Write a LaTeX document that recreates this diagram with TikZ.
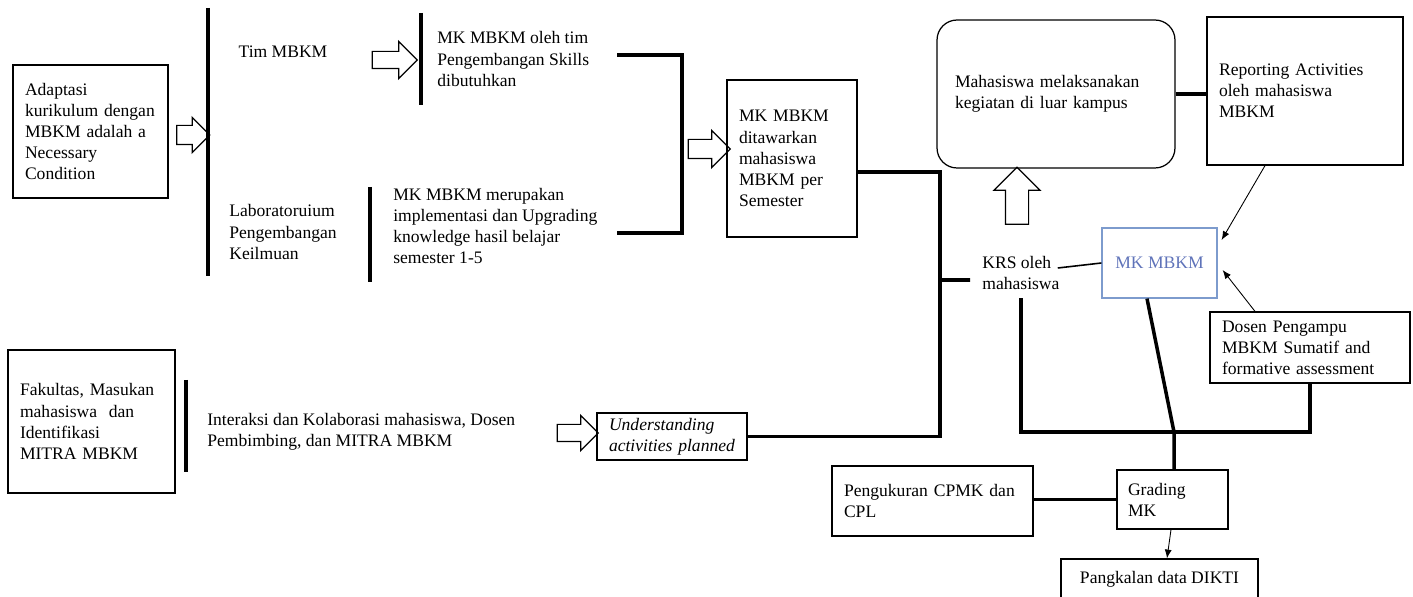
\documentclass[tikz,border=0pt]{standalone}
\usepackage{fontspec}
\setmainfont{Liberation Serif}
\usetikzlibrary{shapes.arrows,arrows.meta}

\newcommand\boxsep{0.24cm}
\definecolor{mkblue}{RGB}{95,115,185}
\definecolor{mkframe}{RGB}{125,155,205}

\tikzset{
    box/.style={draw, line width=0.7pt, align=left, inner xsep=\boxsep, inner ysep=0pt},
    plain/.style={align=left, inner sep=0pt},
    bar/.style={line width=2.6pt},
    thinbar/.style={line width=1.8pt},
    link/.style={line width=2pt},
    pointer/.style={line width=0.5pt, -{Latex[length=5pt,width=4pt]}},
    hollow/.style={single arrow, draw, line width=0.7pt, inner xsep=0pt, single arrow head indent=0pt}
}

\begin{document}
\begin{tikzpicture}[x=0.02cm, y=-0.02cm]
    \useasboundingbox (0,0) rectangle (1413,597);

    \node[box, minimum width=3.1cm, minimum height=2.66cm, text width=2.62cm] (adapt) at (90.5,131.5) {Adaptasi\\ kurikulum dengan\\ MBKM adalah a\\ Necessary\\ Condition};
    \node[box, minimum width=2.6cm, minimum height=3.14cm, text width=2.12cm] (mkoffer) at (792,158.5) {MK MBKM\\ ditawarkan\\ mahasiswa\\ MBKM per\\ Semester};
    \node[box, rounded corners=0.4cm, inner xsep=0.36cm, minimum width=4.76cm, minimum height=2.96cm, text width=4.04cm] (kegiatan) at (1056,94) {Mahasiswa melaksanakan\\ kegiatan di luar kampus};
    \node[box, minimum width=3.92cm, minimum height=2.96cm, text width=3.44cm] (report) at (1305,91) {Reporting Activities\\ oleh mahasiswa\\ MBKM};
    \node[box, draw=mkframe, text=mkblue, align=center, minimum width=2.3cm, minimum height=1.4cm] (mkblue) at (1159.5,263) {MK MBKM};
    \node[box, minimum width=4cm, minimum height=1.42cm, text width=3.52cm] (dosen) at (1310,347.5) {Dosen Pengampu\\ MBKM Sumatif and\\ formative assessment};
    \node[box, inner xsep=0.22cm, minimum width=2.22cm, minimum height=1.18cm, text width=1.78cm] (grading) at (1172.5,499.5) {Grading\\ MK};
    \node[box, minimum width=4.02cm, minimum height=1.4cm, text width=3.54cm] (ukur) at (932.5,501) {Pengukuran CPMK dan\\ CPL};
    \node[box, align=center, minimum width=3.94cm, minimum height=0.8cm] (pangkalan) at (1159.5,579) {Pangkalan data DIKTI};
    \node[box, minimum width=3.34cm, minimum height=2.86cm, text width=2.86cm] (fakultas) at (91.5,421.5) {Fakultas, Masukan\\ mahasiswa\ \ dan\\ Identifikasi\\ MITRA MBKM};
    \node[box, minimum width=3cm, minimum height=0.94cm, text width=2.52cm, font=\itshape] (underst) at (672,436.5) {Understanding\\ activities planned};

    \node[plain] (tim) at (283,52) {Tim MBKM};
    \node[plain, anchor=west] (skills) at (437,59) {MK MBKM oleh tim\\ Pengembangan Skills\\ dibutuhkan};
    \node[plain, anchor=west] (lab) at (229,232) {Laboratoruium\\ Pengembangan\\ Keilmuan};
    \node[plain, anchor=west] (upgrade) at (393,226) {MK MBKM merupakan\\ implementasi dan Upgrading\\ knowledge hasil belajar\\ semester 1-5};
    \node[plain, anchor=west] (krs) at (982,273) {KRS oleh\\ mahasiswa};
    \node[plain, anchor=west] (interaksi) at (207,432) {Interaksi dan Kolaborasi mahasiswa, Dosen\\ Pembimbing, dan MITRA MBKM};

    \node[hollow, minimum height=0.66cm, inner ysep=0.18cm, single arrow head extend=0.16cm] (harr1) at (188.5,135) {};
    \node[hollow, minimum height=0.9cm, inner ysep=0.16cm, single arrow head extend=0.2cm] (harr2) at (390.5,60) {};
    \node[hollow, minimum height=0.84cm, inner ysep=0.18cm, single arrow head extend=0.18cm] (harr3) at (704.5,149) {};
    \node[hollow, minimum height=0.82cm, inner ysep=0.16cm, single arrow head extend=0.18cm] (harr4) at (573.5,433) {};
    \node[hollow, rotate=90, minimum height=1.14cm, inner ysep=0.22cm, single arrow head extend=0.23cm] (harrup) at (1017,201.5) {};

    \draw[bar] (208,8) -- (208,276);
    \draw[thinbar] (421,13) -- (421,105);
    \draw[thinbar] (370,187) -- (370,282);
    \draw[bar] (186,380) -- (186,472);

    \coordinate (brt) at (617,55);
    \coordinate (brb) at (617,233);
    \coordinate (vx) at (940,280);
    \coordinate (gk) at (1174,432);

    \draw[link] (brt) -- ++(65,0) |- (brb);
    \draw[link] ([yshift=-0.27cm]mkoffer.east) -| (vx) |- (underst.east);
    \draw[link] (vx) -- ([xshift=-0.24cm,yshift=-0.14cm]krs.west);
    \draw[link] (kegiatan.east) -- (kegiatan.east -| report.west);
    \draw[line width=0.9pt] ([xshift=-0.04cm,yshift=0.1cm]krs.east) -- (mkblue.west);
    \draw[pointer] ([xshift=-0.8cm]report.south) -- ([xshift=0.08cm,yshift=0.46cm]mkblue.east);
    \draw[pointer] ([xshift=-1.1cm]dosen.north) -- ([xshift=0.1cm,yshift=-0.14cm]mkblue.east);
    \draw[link] (dosen.south) |- (gk) -| ([yshift=-0.16cm]krs.south);
    \draw[link] ([xshift=-0.25cm]mkblue.south) -- (gk) -- (gk |- grading.north);
    \draw[link] (grading.west) -- (grading.west -| ukur.east);
    \draw[pointer] ([xshift=-0.03cm]grading.south) -- ([xshift=0.15cm]pangkalan.north);
\end{tikzpicture}
\end{document}
